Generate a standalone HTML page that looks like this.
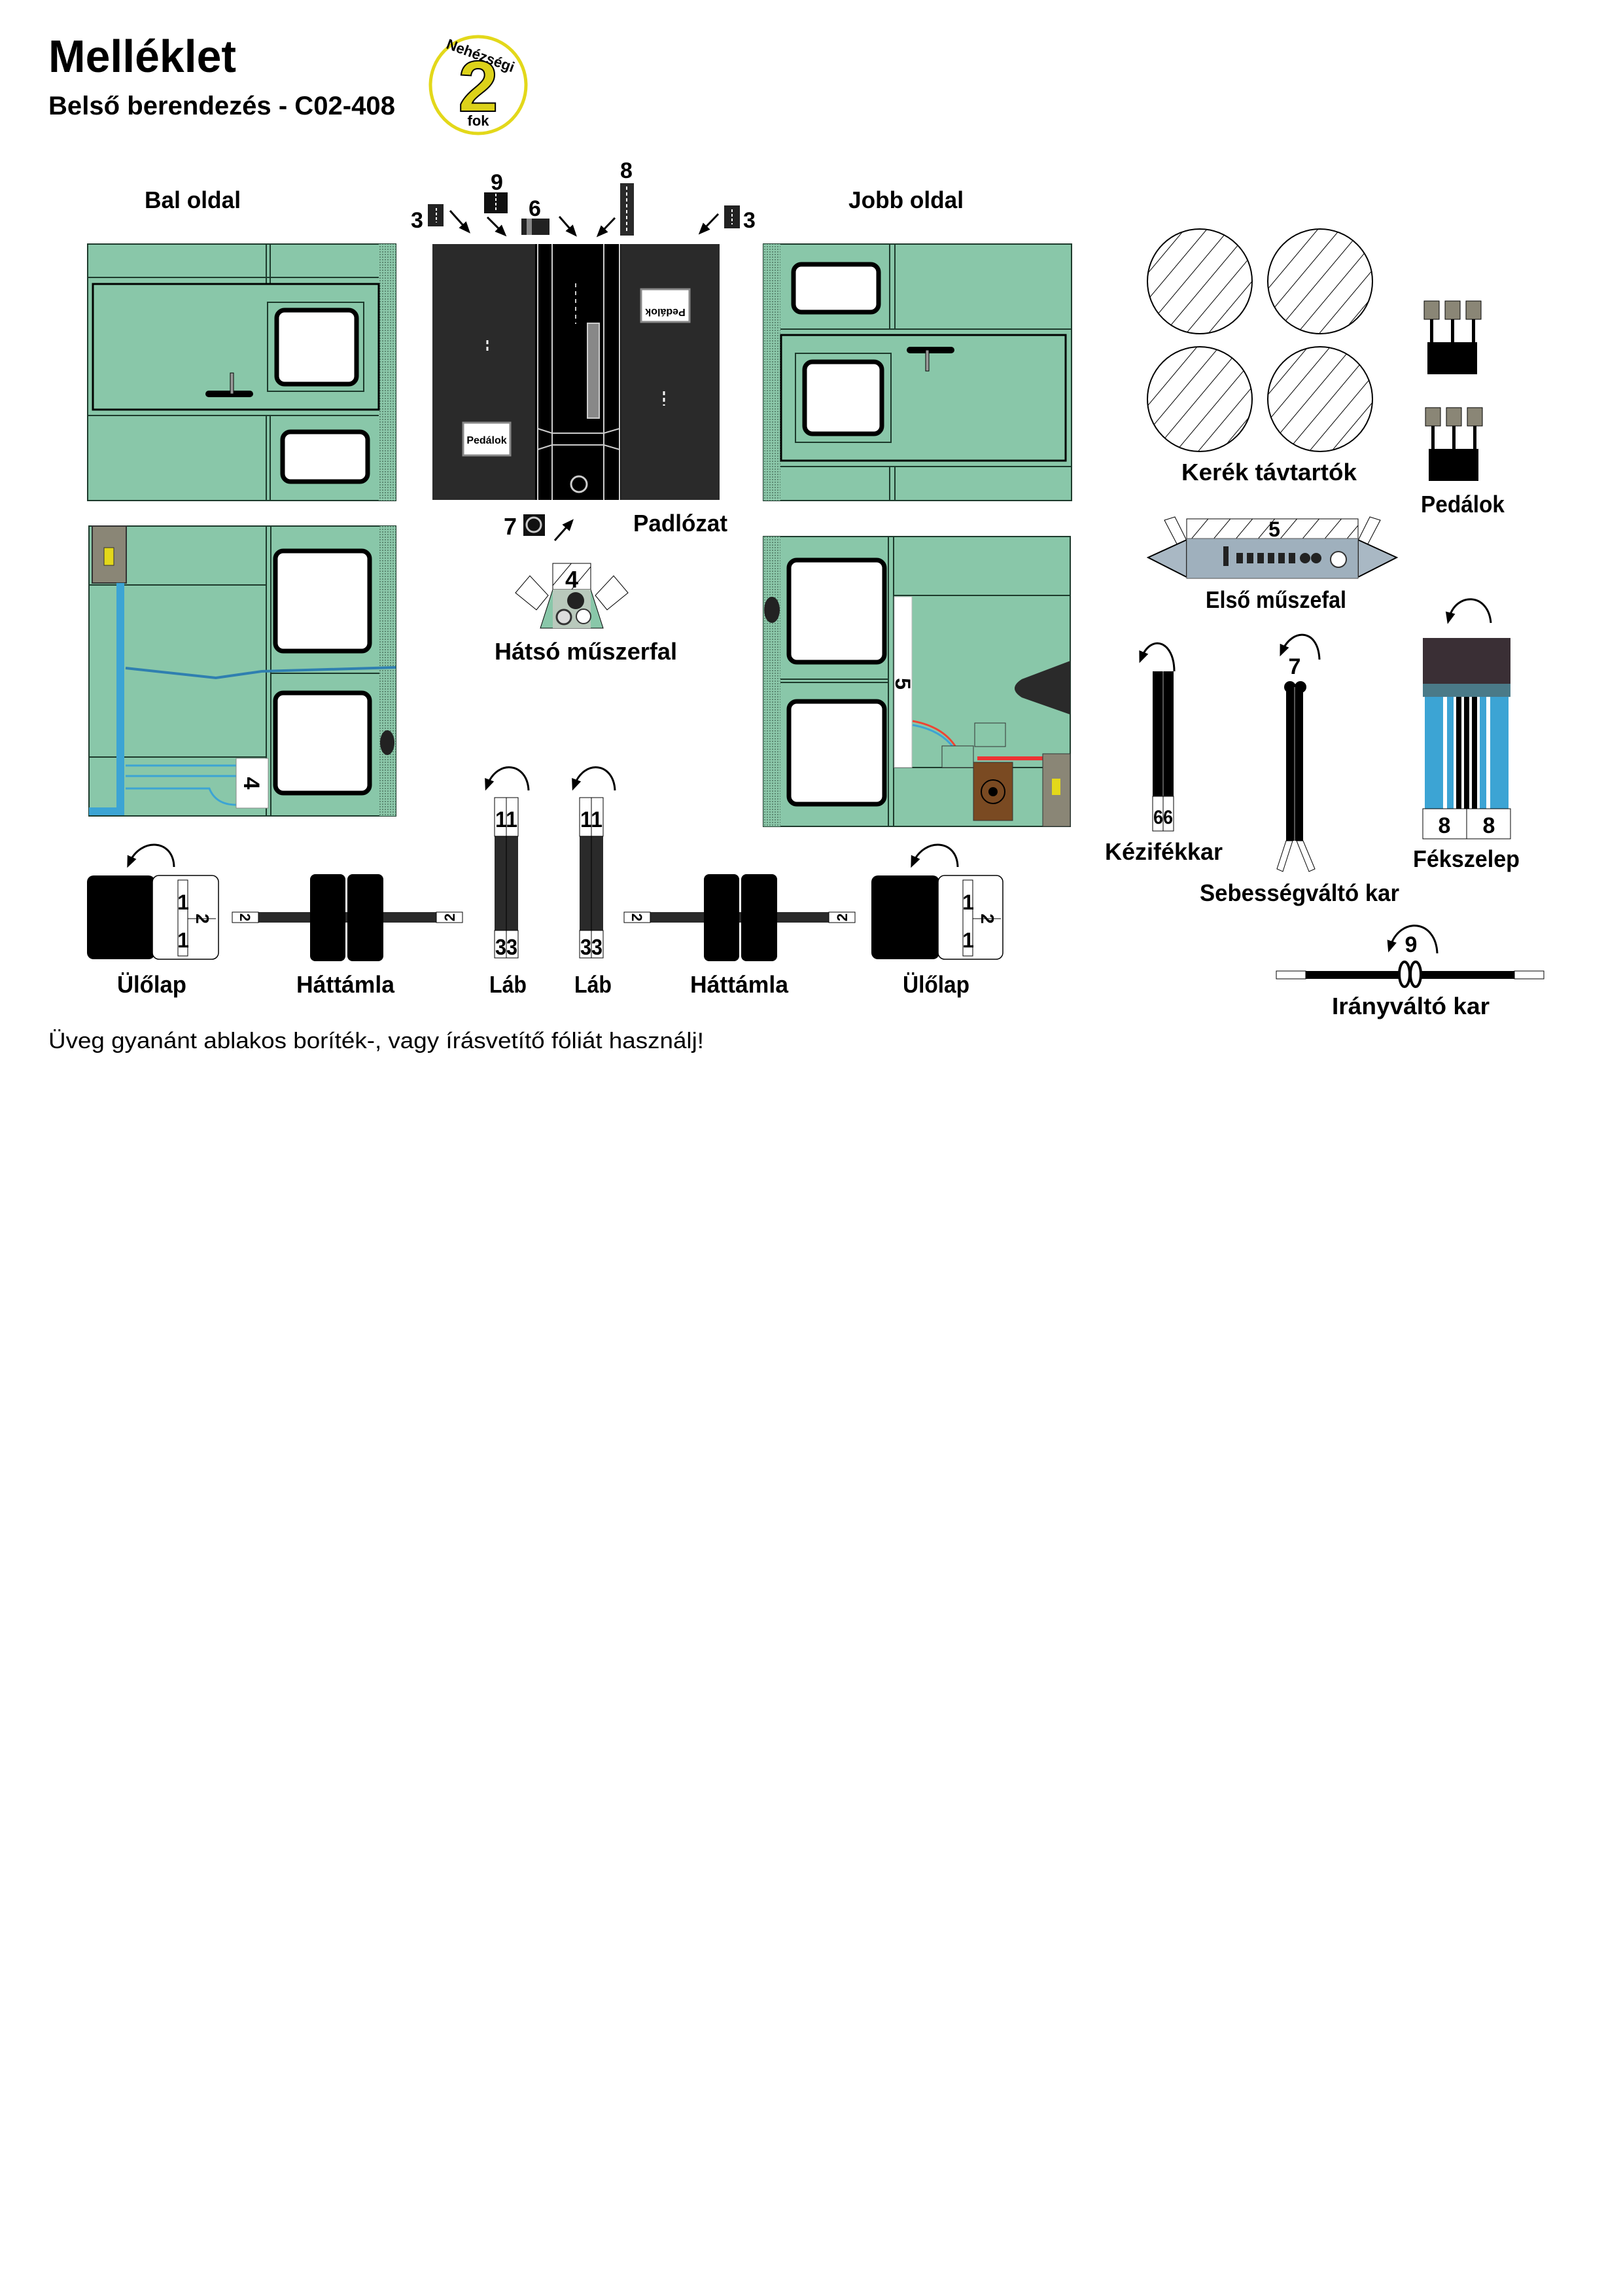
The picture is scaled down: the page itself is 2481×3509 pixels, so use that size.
<!DOCTYPE html>
<html><head><meta charset="utf-8"><style>
html,body{margin:0;padding:0;background:#fff;}
svg{display:block;}
text{font-family:"Liberation Sans",sans-serif;font-weight:bold;fill:#000;}
</style></head><body>
<svg width="2481" height="3509" viewBox="0 0 2481 3509" xmlns="http://www.w3.org/2000/svg">
<defs>
<pattern id="dots" width="4" height="4" patternUnits="userSpaceOnUse"><rect width="4" height="4" fill="#8cc8aa"/><rect width="2" height="2" fill="#5d8a73"/></pattern>
<pattern id="hatch" width="26" height="26" patternUnits="userSpaceOnUse" patternTransform="rotate(40)"><rect width="26" height="26" fill="#fff"/><line x1="0" y1="0" x2="0" y2="26" stroke="#000" stroke-width="2"/></pattern>
<marker id="ah" markerWidth="6" markerHeight="6" refX="3" refY="3" orient="auto"><path d="M0,0.5 L6,3 L0,5.5 z" fill="#000"/></marker>
</defs>

<!-- Header -->
<text x="74" y="110" font-size="70" textLength="287" lengthAdjust="spacingAndGlyphs">Melléklet</text>
<text x="74" y="175" font-size="40" textLength="530" lengthAdjust="spacingAndGlyphs">Belső berendezés - C02-408</text>
<ellipse cx="731" cy="130" rx="73" ry="74" fill="#fff" stroke="#e3d81a" stroke-width="5"/>
<text x="731" y="170" font-size="110" text-anchor="middle" fill="#dcd21a" stroke="#000" stroke-width="2" style="fill:#dcd21a">2</text>
<text x="732" y="92" font-size="22" text-anchor="middle" transform="rotate(20 732 92)">Nehézségi</text>
<text x="731" y="192" font-size="22" text-anchor="middle">fok</text>

<!-- Section titles -->
<text x="221" y="318" font-size="36" textLength="147" lengthAdjust="spacingAndGlyphs">Bal oldal</text>
<text x="1297" y="318" font-size="36" textLength="176" lengthAdjust="spacingAndGlyphs">Jobb oldal</text>

<!-- Left top panel -->
<g stroke="#1d3a2c" stroke-width="2">
<rect x="134" y="373" width="471" height="392" fill="#89c7a9"/>
<rect x="579" y="373" width="26" height="392" fill="url(#dots)" stroke="none"/>
<line x1="134" y1="424" x2="579" y2="424"/>
<line x1="407" y1="373" x2="407" y2="434"/><line x1="413" y1="373" x2="413" y2="434"/>
<rect x="142" y="434" width="437" height="192" fill="#89c7a9" stroke-width="3" stroke="#000"/>
<rect x="409" y="462" width="147" height="136" fill="none"/>
<line x1="134" y1="635" x2="579" y2="635"/>
<line x1="407" y1="635" x2="407" y2="765"/><line x1="413" y1="635" x2="413" y2="765"/>
</g>
<rect x="423" y="474" width="122" height="113" rx="12" fill="#fff" stroke="#000" stroke-width="7"/>
<rect x="432" y="660" width="130" height="76" rx="12" fill="#fff" stroke="#000" stroke-width="7"/>
<rect x="314" y="597" width="73" height="10" rx="5" fill="#000"/>
<rect x="352" y="570" width="5" height="32" fill="#9a9a9a" stroke="#000"/>

<!-- Padlozat -->
<rect x="661" y="373" width="439" height="391" fill="#2a2a2a"/>
<rect x="818" y="373" width="131" height="391" fill="#000"/>
<g stroke="#ccc" stroke-width="2">
<line x1="822" y1="373" x2="822" y2="764"/><line x1="844" y1="373" x2="844" y2="764"/>
<line x1="923" y1="373" x2="923" y2="764"/><line x1="947" y1="373" x2="947" y2="764"/>
<line x1="822" y1="655" x2="844" y2="662"/><line x1="844" y1="662" x2="923" y2="662"/><line x1="923" y1="662" x2="947" y2="655"/>
<line x1="822" y1="687" x2="844" y2="680"/><line x1="844" y1="680" x2="923" y2="680"/><line x1="923" y1="680" x2="947" y2="687"/>
<line x1="880" y1="433" x2="880" y2="495" stroke-dasharray="6,6"/>
</g>
<rect x="898" y="494" width="18" height="145" fill="#888" stroke="#ccc" stroke-width="2"/>
<circle cx="885" cy="740" r="12" fill="none" stroke="#ccc" stroke-width="3"/>
<rect x="708" y="646" width="72" height="50" fill="#fff" stroke="#888" stroke-width="3"/>
<text x="744" y="678" font-size="16" text-anchor="middle">Pedálok</text>
<rect x="980" y="442" width="74" height="50" fill="#fff" stroke="#888" stroke-width="3"/>
<text x="1017" y="462" font-size="16" text-anchor="middle" transform="rotate(180 1017 467)">Pedálok</text>
<line x1="745" y1="520" x2="745" y2="540" stroke="#fff" stroke-width="3" stroke-dasharray="6,4"/>
<line x1="1015" y1="598" x2="1015" y2="620" stroke="#fff" stroke-width="3" stroke-dasharray="6,4"/>

<!-- Padlozat part labels -->
<text x="628" y="348" font-size="34">3</text>
<rect x="654" y="312" width="24" height="34" fill="#222"/><line x1="667" y1="318" x2="667" y2="340" stroke="#fff" stroke-width="2" stroke-dasharray="4,3"/>
<text x="750" y="290" font-size="34">9</text>
<rect x="740" y="294" width="36" height="32" fill="#111"/><line x1="758" y1="296" x2="758" y2="324" stroke="#fff" stroke-width="2" stroke-dasharray="4,3"/>
<text x="808" y="330" font-size="34">6</text>
<rect x="797" y="334" width="43" height="25" fill="#222"/><rect x="805" y="334" width="8" height="25" fill="#888"/>
<text x="948" y="272" font-size="34">8</text>
<rect x="948" y="280" width="21" height="80" fill="#2a2a2a"/><line x1="958" y1="285" x2="958" y2="355" stroke="#fff" stroke-width="2" stroke-dasharray="5,4"/>
<rect x="1107" y="314" width="24" height="35" fill="#222"/><line x1="1119" y1="320" x2="1119" y2="343" stroke="#fff" stroke-width="2" stroke-dasharray="4,3"/>
<text x="1136" y="348" font-size="34">3</text>
<g stroke="#000" stroke-width="3" marker-end="url(#ah)">
<line x1="688" y1="322" x2="713" y2="350"/>
<line x1="745" y1="332" x2="768" y2="355"/>
<line x1="855" y1="331" x2="876" y2="355"/>
<line x1="940" y1="333" x2="918" y2="356"/>
<line x1="1098" y1="327" x2="1074" y2="352"/>
<line x1="848" y1="826" x2="871" y2="800"/>
</g>
<text x="770" y="817" font-size="36">7</text>
<rect x="800" y="786" width="33" height="33" fill="#111"/><circle cx="816" cy="802" r="11" fill="none" stroke="#ccc" stroke-width="3"/>
<text x="968" y="812" font-size="36" textLength="144" lengthAdjust="spacingAndGlyphs">Padlózat</text>

<!-- Hatso muszerfal -->
<rect x="845" y="861" width="58" height="40" fill="url(#hatch)" stroke="#000" stroke-width="1"/>
<text x="874" y="898" font-size="36" text-anchor="middle">4</text>
<polygon points="788,906 810,880 838,910 820,932" fill="#fff" stroke="#000"/>
<polygon points="960,906 938,880 910,910 928,932" fill="#fff" stroke="#000"/>
<polygon points="826,960 845,901 903,901 922,960" fill="#89c7a9" stroke="#000"/>
<rect x="845" y="901" width="58" height="59" fill="#b9c9bc"/>
<circle cx="880" cy="918" r="13" fill="#222"/><circle cx="862" cy="943" r="11" fill="#ddd" stroke="#333" stroke-width="3"/><circle cx="892" cy="942" r="11" fill="#fff" stroke="#333" stroke-width="2"/>
<text x="756" y="1008" font-size="36" textLength="279" lengthAdjust="spacingAndGlyphs">Hátsó műszerfal</text>

<!-- Right top panel -->
<g stroke="#1d3a2c" stroke-width="2">
<rect x="1167" y="373" width="471" height="392" fill="#89c7a9"/>
<rect x="1167" y="373" width="26" height="392" fill="url(#dots)" stroke="none"/>
<line x1="1193" y1="503" x2="1638" y2="503"/>
<line x1="1360" y1="373" x2="1360" y2="503"/><line x1="1368" y1="373" x2="1368" y2="503"/>
<rect x="1194" y="512" width="435" height="192" fill="#89c7a9" stroke="#000" stroke-width="3"/>
<rect x="1216" y="540" width="146" height="136" fill="none"/>
<line x1="1193" y1="713" x2="1638" y2="713"/>
<line x1="1360" y1="713" x2="1360" y2="765"/><line x1="1368" y1="713" x2="1368" y2="765"/>
</g>
<rect x="1213" y="404" width="130" height="73" rx="12" fill="#fff" stroke="#000" stroke-width="7"/>
<rect x="1230" y="553" width="118" height="110" rx="12" fill="#fff" stroke="#000" stroke-width="7"/>
<rect x="1386" y="530" width="73" height="10" rx="5" fill="#000"/>
<rect x="1415" y="535" width="5" height="32" fill="#9a9a9a" stroke="#000"/>

<!-- Left bottom panel -->
<g stroke="#1d3a2c" stroke-width="2">
<rect x="136" y="804" width="469" height="443" fill="#89c7a9"/>
<rect x="580" y="804" width="25" height="443" fill="url(#dots)" stroke="none"/>
<line x1="407" y1="804" x2="407" y2="1247"/><line x1="414" y1="804" x2="414" y2="1247"/>
<line x1="136" y1="894" x2="407" y2="894"/>
<line x1="414" y1="1029" x2="580" y2="1029"/>
<line x1="136" y1="1157" x2="407" y2="1157"/>
</g>
<rect x="141" y="804" width="52" height="87" fill="#8a8676" stroke="#333" stroke-width="2"/>
<rect x="159" y="837" width="15" height="27" fill="#e3d81a" stroke="#333"/>
<path d="M184,891 V1240 H136" fill="none" stroke="#3ca4d4" stroke-width="12"/>
<path d="M192,1021 L330,1036 L400,1026 L605,1020" fill="none" stroke="#2f7fb0" stroke-width="4"/>
<path d="M192,1170 H361 M192,1186 H361 M192,1205 H320 Q330,1230 361,1230" fill="none" stroke="#3ca4d4" stroke-width="3"/>
<rect x="361" y="1159" width="49" height="76" fill="#fff" stroke="#888"/>
<text x="385" y="1197" font-size="34" text-anchor="middle" transform="rotate(90 385 1197)" dy="12">4</text>
<ellipse cx="592" cy="1135" rx="11" ry="19" fill="#222"/>
<rect x="421" y="842" width="144" height="153" rx="12" fill="#fff" stroke="#000" stroke-width="7"/>
<rect x="421" y="1059" width="144" height="153" rx="12" fill="#fff" stroke="#000" stroke-width="7"/>

<!-- Right bottom panel -->
<g stroke="#1d3a2c" stroke-width="2">
<rect x="1167" y="820" width="469" height="443" fill="#89c7a9"/>
<rect x="1167" y="820" width="26" height="443" fill="url(#dots)" stroke="none"/>
<line x1="1358" y1="820" x2="1358" y2="1263"/><line x1="1366" y1="820" x2="1366" y2="1263"/>
<line x1="1366" y1="910" x2="1636" y2="910"/>
<line x1="1193" y1="1038" x2="1358" y2="1038"/><line x1="1193" y1="1043" x2="1358" y2="1043"/>
<line x1="1366" y1="1173" x2="1636" y2="1173"/>
</g>
<rect x="1367" y="912" width="27" height="261" fill="#fff" stroke="#bbb"/>
<text x="1380" y="1045" font-size="32" text-anchor="middle" transform="rotate(90 1380 1045)" dy="11">5</text>
<ellipse cx="1180" cy="932" rx="12" ry="20" fill="#222"/>
<path d="M1636,1010 L1562,1038 Q1540,1052 1562,1066 L1636,1092 z" fill="#2a2a2a"/>
<path d="M1395,1102 Q1440,1110 1460,1140" fill="none" stroke="#e43" stroke-width="3"/>
<path d="M1395,1108 Q1440,1116 1460,1146" fill="none" stroke="#3ca4d4" stroke-width="3"/>
<rect x="1440" y="1140" width="48" height="33" fill="#89c7a9" stroke="#333"/>
<rect x="1490" y="1105" width="47" height="36" fill="#89c7a9" stroke="#333"/>
<line x1="1494" y1="1159" x2="1594" y2="1159" stroke="#ee3333" stroke-width="6"/>
<rect x="1488" y="1165" width="60" height="89" fill="#7a4a22" stroke="#333"/>
<circle cx="1518" cy="1210" r="18" fill="none" stroke="#000" stroke-width="2"/><circle cx="1518" cy="1210" r="7" fill="#000"/>
<rect x="1594" y="1152" width="42" height="111" fill="#8a8676" stroke="#333"/>
<rect x="1608" y="1190" width="13" height="25" fill="#e3d81a"/>
<rect x="1206" y="856" width="146" height="156" rx="12" fill="#fff" stroke="#000" stroke-width="7"/>
<rect x="1206" y="1072" width="146" height="157" rx="12" fill="#fff" stroke="#000" stroke-width="7"/>

<!-- Kerek tavtartok -->
<g fill="url(#hatch)" stroke="#000" stroke-width="2">
<circle cx="1834" cy="430" r="80"/><circle cx="2018" cy="430" r="80"/>
<circle cx="1834" cy="610" r="80"/><circle cx="2018" cy="610" r="80"/>
</g>
<text x="1806" y="734" font-size="36" textLength="268" lengthAdjust="spacingAndGlyphs">Kerék távtartók</text>

<!-- Pedals -->
<g>
<rect x="2182" y="523" width="76" height="49" fill="#000"/>
<rect x="2177" y="460" width="23" height="28" fill="#8a8676" stroke="#000"/><rect x="2209" y="460" width="23" height="28" fill="#8a8676" stroke="#000"/><rect x="2241" y="460" width="23" height="28" fill="#8a8676" stroke="#000"/>
<rect x="2186" y="488" width="5" height="35" fill="#000"/><rect x="2218" y="488" width="5" height="35" fill="#000"/><rect x="2250" y="488" width="5" height="35" fill="#000"/>
<rect x="2184" y="686" width="76" height="49" fill="#000"/>
<rect x="2179" y="623" width="23" height="28" fill="#8a8676" stroke="#000"/><rect x="2211" y="623" width="23" height="28" fill="#8a8676" stroke="#000"/><rect x="2243" y="623" width="23" height="28" fill="#8a8676" stroke="#000"/>
<rect x="2188" y="651" width="5" height="35" fill="#000"/><rect x="2220" y="651" width="5" height="35" fill="#000"/><rect x="2252" y="651" width="5" height="35" fill="#000"/>
</g>
<text x="2172" y="783" font-size="36" textLength="128" lengthAdjust="spacingAndGlyphs">Pedálok</text>

<!-- Elso muszerfal -->
<polygon points="1780,795 1796,790 1826,850 1812,856" fill="#fff" stroke="#000"/>
<polygon points="2110,795 2094,790 2064,850 2078,856" fill="#fff" stroke="#000"/>
<polygon points="1755,852 1814,825 1814,882" fill="#a9b8c4" stroke="#000" stroke-width="2"/>
<polygon points="2135,852 2076,825 2076,882" fill="#a9b8c4" stroke="#000" stroke-width="2"/>
<rect x="1814" y="793" width="262" height="30" fill="url(#hatch)" stroke="#000"/>
<text x="1948" y="820" font-size="32" text-anchor="middle">5</text>
<rect x="1814" y="823" width="262" height="61" fill="#9fb0bd" stroke="#555"/>
<g fill="#222"><rect x="1870" y="835" width="8" height="30"/>
<rect x="1890" y="845" width="10" height="16"/><rect x="1906" y="845" width="10" height="16"/><rect x="1922" y="845" width="10" height="16"/><rect x="1938" y="845" width="10" height="16"/><rect x="1954" y="845" width="10" height="16"/><rect x="1970" y="845" width="10" height="16"/>
<circle cx="1995" cy="853" r="8"/><circle cx="2012" cy="853" r="8"/></g>
<circle cx="2046" cy="855" r="12" fill="#fff" stroke="#333" stroke-width="2"/>
<text x="1843" y="929" font-size="36" textLength="215" lengthAdjust="spacingAndGlyphs">Első műszefal</text>

<!-- curved arrows -->
<g fill="none" stroke="#000" stroke-width="3">
<path d="M1795,1026 C1795,980 1760,968 1745,1005" marker-end="url(#ah)"/>
<path d="M2017,1008 C2015,960 1975,960 1960,995" marker-end="url(#ah)"/>
<path d="M2279,952 C2275,905 2225,905 2215,945" marker-end="url(#ah)"/>
<path d="M2197,1457 C2195,1405 2140,1400 2125,1447" marker-end="url(#ah)"/>
<path d="M266,1325 C265,1282 215,1280 198,1318" marker-end="url(#ah)"/>
<path d="M808,1208 C806,1165 760,1160 745,1200" marker-end="url(#ah)"/>
<path d="M940,1208 C938,1165 893,1160 878,1200" marker-end="url(#ah)"/>
<path d="M1464,1325 C1463,1282 1413,1280 1396,1318" marker-end="url(#ah)"/>
</g>

<!-- Kezifekkar -->
<rect x="1762" y="1026" width="32" height="244" fill="#000"/>
<line x1="1778" y1="1026" x2="1778" y2="1270" stroke="#555" stroke-width="2"/>
<rect x="1762" y="1217" width="32" height="53" fill="#fff" stroke="#000"/>
<line x1="1778" y1="1217" x2="1778" y2="1270" stroke="#000"/>
<text x="1778" y="1259" font-size="30" text-anchor="middle" textLength="30" lengthAdjust="spacingAndGlyphs">66</text>
<text x="1689" y="1314" font-size="36" textLength="180" lengthAdjust="spacingAndGlyphs">Kézifékkar</text>

<!-- Sebessegvalto -->
<text x="1979" y="1030" font-size="34" text-anchor="middle">7</text>
<circle cx="1972" cy="1050" r="9" fill="#000"/><circle cx="1988" cy="1050" r="9" fill="#000"/>
<rect x="1966" y="1050" width="26" height="235" fill="#000"/>
<line x1="1979" y1="1050" x2="1979" y2="1285" stroke="#555" stroke-width="2"/>
<polygon points="1966,1285 1976,1285 1961,1332 1952,1328" fill="#fff" stroke="#000"/>
<polygon points="1982,1285 1992,1285 2010,1328 2001,1332" fill="#fff" stroke="#000"/>
<text x="1834" y="1377" font-size="36" textLength="305" lengthAdjust="spacingAndGlyphs">Sebességváltó kar</text>

<!-- Fekszelep -->
<rect x="2175" y="975" width="67" height="70" fill="#3a2f35"/>
<rect x="2242" y="975" width="67" height="70" fill="#3a2f35"/>
<rect x="2175" y="1045" width="134" height="20" fill="#4a7a88"/>
<rect x="2175" y="1065" width="134" height="171" fill="#fff"/>
<g fill="#3ca4d4"><rect x="2178" y="1065" width="28" height="171"/><rect x="2212" y="1065" width="10" height="171"/><rect x="2262" y="1065" width="10" height="171"/><rect x="2278" y="1065" width="28" height="171"/></g>
<g fill="#000"><rect x="2226" y="1065" width="8" height="171"/><rect x="2238" y="1065" width="8" height="171"/><rect x="2250" y="1065" width="8" height="171"/></g>
<rect x="2175" y="1236" width="134" height="46" fill="#fff" stroke="#000"/>
<line x1="2242" y1="1236" x2="2242" y2="1282" stroke="#000"/>
<text x="2208" y="1273" font-size="34" text-anchor="middle">8</text>
<text x="2276" y="1273" font-size="34" text-anchor="middle">8</text>
<text x="2160" y="1325" font-size="36" textLength="163" lengthAdjust="spacingAndGlyphs">Fékszelep</text>

<!-- Iranyvalto -->
<rect x="1951" y="1484" width="409" height="12" fill="#000"/>
<rect x="1951" y="1484" width="45" height="12" fill="#fff" stroke="#000"/>
<rect x="2315" y="1484" width="45" height="12" fill="#fff" stroke="#000"/>
<ellipse cx="2147" cy="1489" rx="8" ry="19" fill="#fff" stroke="#000" stroke-width="4"/>
<ellipse cx="2164" cy="1489" rx="8" ry="19" fill="#fff" stroke="#000" stroke-width="4"/>
<text x="2157" y="1455" font-size="34" text-anchor="middle">9</text>
<text x="2036" y="1550" font-size="36" textLength="241" lengthAdjust="spacingAndGlyphs">Irányváltó kar</text>

<!-- Bottom row: Ulolap left -->
<rect x="133" y="1338" width="104" height="128" rx="10" fill="#000"/>
<rect x="233" y="1338" width="101" height="128" rx="10" fill="#fff" stroke="#000" stroke-width="1.5"/>
<rect x="272" y="1345" width="15" height="116" fill="#fff" stroke="#000"/>
<line x1="287" y1="1404" x2="330" y2="1404" stroke="#000"/>
<text x="280" y="1390" font-size="32" text-anchor="middle">1</text><text x="280" y="1448" font-size="32" text-anchor="middle">1</text>
<text x="310" y="1404" font-size="28" text-anchor="middle" transform="rotate(90 310 1404)" dy="10">2</text>
<text x="179" y="1517" font-size="36" textLength="106" lengthAdjust="spacingAndGlyphs">Ülőlap</text>

<!-- Hattamla left -->
<rect x="355" y="1394" width="352" height="16" fill="#2a2a2a"/>
<rect x="355" y="1394" width="40" height="16" fill="#fff" stroke="#000"/><rect x="667" y="1394" width="40" height="16" fill="#fff" stroke="#000"/>
<text x="375" y="1402" font-size="22" text-anchor="middle" transform="rotate(90 375 1402)" dy="8">2</text>
<text x="687" y="1402" font-size="22" text-anchor="middle" transform="rotate(-90 687 1402)" dy="8">2</text>
<rect x="474" y="1336" width="54" height="133" rx="8" fill="#000"/>
<rect x="531" y="1336" width="55" height="133" rx="8" fill="#000"/>
<text x="453" y="1517" font-size="36" textLength="150" lengthAdjust="spacingAndGlyphs">Háttámla</text>

<!-- Lab 1 -->
<rect x="756" y="1219" width="36" height="245" fill="#2a2a2a"/>
<rect x="756" y="1219" width="36" height="59" fill="#fff" stroke="#000"/>
<rect x="756" y="1422" width="36" height="42" fill="#fff" stroke="#000"/>
<line x1="774" y1="1219" x2="774" y2="1464" stroke="#000"/>
<text x="774" y="1264" font-size="34" text-anchor="middle" textLength="34" lengthAdjust="spacingAndGlyphs">11</text>
<text x="774" y="1459" font-size="34" text-anchor="middle" textLength="34" lengthAdjust="spacingAndGlyphs">33</text>
<text x="748" y="1517" font-size="36" textLength="57" lengthAdjust="spacingAndGlyphs">Láb</text>
<!-- Lab 2 -->
<rect x="886" y="1219" width="36" height="245" fill="#2a2a2a"/>
<rect x="886" y="1219" width="36" height="59" fill="#fff" stroke="#000"/>
<rect x="886" y="1422" width="36" height="42" fill="#fff" stroke="#000"/>
<line x1="904" y1="1219" x2="904" y2="1464" stroke="#000"/>
<text x="904" y="1264" font-size="34" text-anchor="middle" textLength="34" lengthAdjust="spacingAndGlyphs">11</text>
<text x="904" y="1459" font-size="34" text-anchor="middle" textLength="34" lengthAdjust="spacingAndGlyphs">33</text>
<text x="878" y="1517" font-size="36" textLength="57" lengthAdjust="spacingAndGlyphs">Láb</text>

<!-- Hattamla right -->
<rect x="954" y="1394" width="353" height="16" fill="#2a2a2a"/>
<rect x="954" y="1394" width="40" height="16" fill="#fff" stroke="#000"/><rect x="1267" y="1394" width="40" height="16" fill="#fff" stroke="#000"/>
<text x="974" y="1402" font-size="22" text-anchor="middle" transform="rotate(90 974 1402)" dy="8">2</text>
<text x="1287" y="1402" font-size="22" text-anchor="middle" transform="rotate(-90 1287 1402)" dy="8">2</text>
<rect x="1076" y="1336" width="54" height="133" rx="8" fill="#000"/>
<rect x="1133" y="1336" width="55" height="133" rx="8" fill="#000"/>
<text x="1055" y="1517" font-size="36" textLength="150" lengthAdjust="spacingAndGlyphs">Háttámla</text>

<!-- Ulolap right -->
<rect x="1332" y="1338" width="104" height="128" rx="10" fill="#000"/>
<rect x="1434" y="1338" width="99" height="128" rx="10" fill="#fff" stroke="#000" stroke-width="1.5"/>
<rect x="1472" y="1345" width="15" height="116" fill="#fff" stroke="#000"/>
<line x1="1487" y1="1404" x2="1530" y2="1404" stroke="#000"/>
<text x="1480" y="1390" font-size="32" text-anchor="middle">1</text><text x="1480" y="1448" font-size="32" text-anchor="middle">1</text>
<text x="1510" y="1404" font-size="28" text-anchor="middle" transform="rotate(90 1510 1404)" dy="10">2</text>
<text x="1380" y="1517" font-size="36" textLength="102" lengthAdjust="spacingAndGlyphs">Ülőlap</text>

<!-- Footer -->
<text x="74" y="1602" font-size="34" font-weight="normal" style="font-weight:normal" textLength="1002" lengthAdjust="spacingAndGlyphs">Üveg gyanánt ablakos boríték-, vagy írásvetítő fóliát használj!</text>
</svg>
</body></html>
